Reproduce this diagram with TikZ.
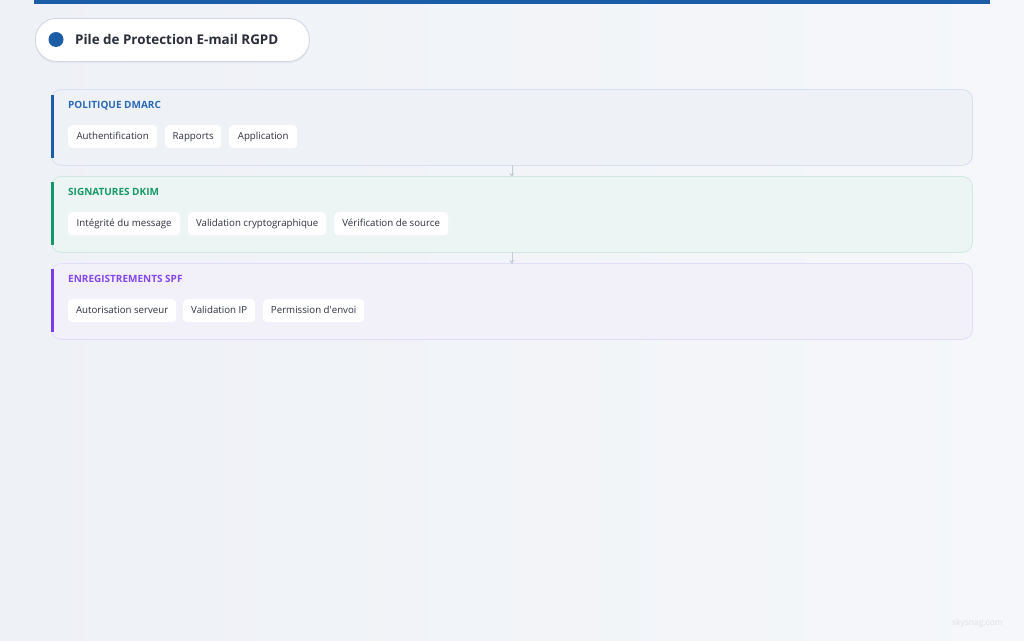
\documentclass[tikz,border=0pt]{standalone}
\usepackage{fontspec}
\setmainfont{Open Sans}
\usetikzlibrary{arrows.meta,shadows}
\definecolor{bgA}{HTML}{EEF1F6}
\definecolor{bgB}{HTML}{F5F7FA}
\definecolor{topbar}{HTML}{1B5DA6}
\definecolor{titletxt}{HTML}{2B2D3A}
\definecolor{pillborder}{HTML}{CBD5E3}
\definecolor{cBlue}{HTML}{1B5DA6}
\definecolor{tBlue}{HTML}{2A69B5}
\definecolor{cGreen}{HTML}{159868}
\definecolor{cPurple}{HTML}{7C3AED}
\definecolor{tPurple}{HTML}{8447EE}
\definecolor{fBlue}{HTML}{EEF2F7}
\definecolor{dBlue}{HTML}{D7E0EE}
\definecolor{fGreen}{HTML}{EDF5F4}
\definecolor{dGreen}{HTML}{D0E9E0}
\definecolor{fPurple}{HTML}{F2F1FA}
\definecolor{dPurple}{HTML}{E2DCF6}
\definecolor{chiptxt}{HTML}{2E3140}
\definecolor{arrowc}{HTML}{C3CBD7}
\definecolor{wm}{HTML}{DCE0E6}
\tikzset{
  panel/.style={draw=#1, line width=0.8pt, rounded corners=10pt, minimum width=921pt, minimum height=76pt, anchor=north west, inner sep=0pt},
  accent/.style={fill=#1, draw=none},
  ptitle/.style={font=\fontsize{10}{12}\selectfont\bfseries, text=#1, anchor=base west, inner sep=0pt},
  chip/.style={fill=white, draw=none, rounded corners=4pt, minimum height=23pt, anchor=north west, inner sep=0pt, text height=7.2pt, text depth=2.2pt, font=\fontsize{9.7}{11}\selectfont, text=chiptxt},
  flow/.style={draw=arrowc, line width=0.8pt, -{Stealth[length=4pt,width=5pt]}},
}
\begin{document}
\begin{tikzpicture}[x=1pt,y=-1pt]
\useasboundingbox (0,0) rectangle (1024,640);
\shade[left color=bgA, right color=bgB] (0,0) rectangle (1024,640);
\fill[topbar] (34,0) rectangle (990,4);
% title pill
\node[draw=pillborder, fill=white, line width=0.8pt, rounded corners=21pt, minimum width=274pt, minimum height=43pt, anchor=north west, inner sep=0pt, drop shadow={opacity=0.08, shadow xshift=0pt, shadow yshift=-2pt}] (pill) at (35,18) {};
\fill[cBlue] (56,39.5) circle (7.5pt);
\node[anchor=base west, inner sep=0pt, font=\fontsize{13.4}{16}\selectfont\bfseries, text=titletxt] (ttl) at (75,44.5) {Pile de Protection E-mail RGPD};
% panels
\node[panel=dBlue, fill=fBlue] (p1) at (51,89) {};
\node[panel=dGreen, fill=fGreen] (p2) at (51,176) {};
\node[panel=dPurple, fill=fPurple] (p3) at (51,263) {};
\fill[accent=cBlue] (51,95) rectangle (54,158);
\fill[accent=cGreen] (51,182) rectangle (54,245);
\fill[accent=cPurple] (51,269) rectangle (54,332);
\node[ptitle=tBlue] (t1) at (68,108.5) {POLITIQUE DMARC};
\node[ptitle=cGreen] (t2) at (68,195.5) {SIGNATURES DKIM};
\node[ptitle=tPurple] (t3) at (68,282.5) {ENREGISTREMENTS SPF};
% chips
\node[chip, minimum width=89pt] (a1) at (68,125) {Authentification};
\node[chip, minimum width=56pt] (a2) at (165,125) {Rapports};
\node[chip, minimum width=68pt] (a3) at (229,125) {Application};
\node[chip, minimum width=112pt] (b1) at (68,212) {Intégrité du message};
\node[chip, minimum width=138pt] (b2) at (188,212) {Validation cryptographique};
\node[chip, minimum width=114pt] (b3) at (334,212) {Vérification de source};
\node[chip, minimum width=108pt] (c1) at (68,299) {Autorisation serveur};
\node[chip, minimum width=72pt] (c2) at (183,299) {Validation IP};
\node[chip, minimum width=101pt] (c3) at (263,299) {Permission d\textquotesingle envoi};
% connectors
\draw[flow] ([yshift=1pt]p1.south) -- ([yshift=-1pt]p2.north);
\draw[flow] ([yshift=1pt]p2.south) -- ([yshift=-1pt]p3.north);
\node[anchor=east, inner sep=0pt, font=\fontsize{8.5}{10}\selectfont, text=wm] (wmk) at (1003,623) {skysnag.com};
\end{tikzpicture}
\end{document}
